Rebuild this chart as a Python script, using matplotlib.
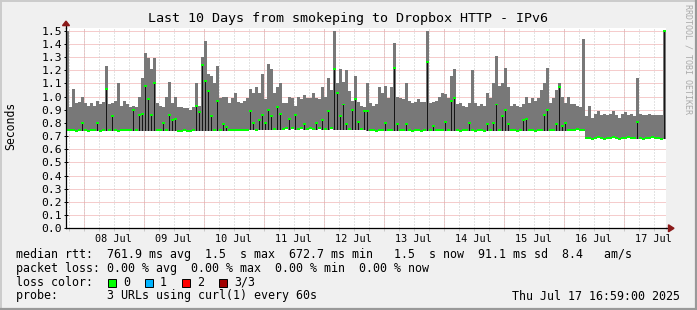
import numpy as np
import pandas as pd
import matplotlib
matplotlib.use("Agg")
import matplotlib.pyplot as plt
import matplotlib.dates as mdates
from matplotlib.patches import Rectangle, Polygon
from matplotlib.lines import Line2D
from matplotlib.ticker import FixedLocator

# ---------------- data ----------------
TITLE = "Last 10 Days from smokeping to Dropbox HTTP - IPv6"
START = "2025-07-07 16:59"
STEP_MIN = 72  # minutes per column

# upper edge of smoke (max rtt per step), seconds
rtt_max = [
    1.50, 0.92, 1.06, 0.95, 0.96, 1.00, 0.95, 0.93, 0.95, 0.93,
    0.97, 0.94, 0.96, 1.23, 0.94, 0.95, 0.97, 1.10, 0.93, 0.97,
    0.94, 0.92, 0.93, 0.92, 1.00, 1.14, 1.33, 1.29, 1.21, 1.29,
    0.95, 0.93, 0.92, 1.00, 1.11, 0.95, 1.00, 0.92, 0.92, 0.91,
    0.91, 0.90, 0.92, 1.10, 0.93, 1.30, 1.42, 1.17, 1.16, 1.10,
    1.23, 0.99, 1.00, 1.00, 0.95, 0.99, 1.03, 0.96, 0.95, 0.97,
    0.99, 1.06, 1.03, 1.07, 1.03, 1.17, 0.98, 1.25, 1.21, 1.03,
    1.07, 1.10, 0.95, 0.95, 1.00, 0.99, 0.93, 1.00, 0.98, 1.01,
    0.99, 0.99, 1.03, 0.99, 0.98, 1.07, 1.00, 1.14, 1.05, 1.50,
    1.10, 1.21, 1.11, 1.20, 1.04, 0.97, 1.16, 0.96, 0.93, 0.92,
    1.10, 0.95, 0.93, 0.94, 1.07, 1.03, 1.08, 0.99, 1.07, 1.41,
    1.00, 0.99, 0.98, 1.10, 0.97, 0.95, 0.96, 0.98, 0.96, 0.96,
    1.50, 0.95, 0.96, 0.97, 1.00, 1.03, 1.02, 0.99, 1.16, 1.21,
    0.94, 0.95, 0.93, 0.92, 0.95, 1.20, 0.95, 0.93, 0.94, 0.93,
    1.03, 0.99, 1.10, 1.31, 1.08, 1.10, 1.22, 1.07, 0.93, 0.94,
    0.93, 0.92, 0.94, 1.00, 0.95, 0.99, 0.97, 0.99, 1.05, 1.10,
    1.22, 0.95, 0.99, 1.05, 1.10, 1.00, 0.95, 1.00, 0.94, 0.94,
    0.93, 0.92, 1.44, 0.85, 0.93, 0.84, 0.87, 0.89, 0.86, 0.87,
    0.86, 0.87, 0.89, 0.86, 0.84, 0.87, 0.88, 0.86, 0.87, 0.85,
    1.14, 0.87, 0.86, 0.86, 0.87, 0.86, 0.86, 0.86, 0.86, 1.50,
]

# median rtt per step, seconds
rtt_median = [
    0.750, 0.745, 0.745, 0.740, 0.745, 0.800, 0.745, 0.740, 0.745, 0.745,
    0.800, 0.740, 0.745, 1.060, 0.745, 0.850, 0.745, 0.740, 0.745, 0.750,
    0.745, 0.745, 0.900, 0.750, 0.860, 0.870, 1.080, 0.980, 0.860, 1.100,
    0.745, 0.745, 0.800, 0.745, 0.860, 0.820, 0.830, 0.740, 0.740, 0.745,
    0.740, 0.740, 0.745, 0.930, 0.880, 1.240, 1.120, 1.040, 0.850, 0.745,
    0.970, 0.745, 0.790, 0.770, 0.745, 0.745, 0.750, 0.745, 0.750, 0.745,
    0.750, 0.890, 0.800, 0.750, 0.820, 0.860, 0.800, 0.900, 0.850, 0.755,
    0.920, 0.870, 0.755, 0.760, 0.830, 0.760, 0.860, 0.755, 0.760, 0.790,
    0.755, 0.760, 0.755, 0.800, 0.760, 0.820, 0.755, 0.890, 0.760, 1.210,
    1.030, 0.850, 0.940, 0.790, 0.755, 0.900, 0.980, 0.810, 0.755, 0.890,
    0.890, 0.745, 0.745, 0.740, 0.745, 0.745, 0.800, 0.745, 0.745, 1.220,
    0.790, 0.745, 0.745, 0.790, 0.745, 0.740, 0.745, 0.745, 0.740, 0.745,
    1.260, 0.745, 0.780, 0.745, 0.745, 0.750, 0.810, 0.745, 0.970, 0.990,
    0.745, 0.740, 0.745, 0.745, 0.800, 0.745, 0.740, 0.745, 0.745, 0.740,
    0.790, 0.745, 0.800, 0.940, 0.745, 0.850, 0.900, 0.790, 0.745, 0.745,
    0.740, 0.745, 0.820, 0.830, 0.745, 0.745, 0.740, 0.745, 0.750, 0.860,
    0.900, 0.745, 0.745, 0.790, 1.070, 0.780, 0.800, 0.745, 0.750, 0.750,
    0.755, 0.750, 0.745, 0.685, 0.685, 0.680, 0.685, 0.690, 0.685, 0.680,
    0.685, 0.685, 0.690, 0.685, 0.680, 0.685, 0.685, 0.690, 0.685, 0.685,
    0.810, 0.685, 0.680, 0.685, 0.685, 0.690, 0.685, 0.685, 0.680, 1.500,
]

# lower edge of smoke per step, seconds
rtt_min = [
    0.74, 0.74, 0.74, 0.735, 0.74, 0.74, 0.74, 0.735, 0.74, 0.74,
    0.74, 0.735, 0.74, 0.74, 0.74, 0.74, 0.74, 0.735, 0.74, 0.74,
    0.74, 0.74, 0.74, 0.74, 0.74, 0.74, 0.74, 0.74, 0.74, 0.74,
    0.74, 0.74, 0.74, 0.74, 0.74, 0.74, 0.74, 0.735, 0.735, 0.74,
    0.735, 0.735, 0.74, 0.74, 0.74, 0.74, 0.74, 0.74, 0.74, 0.74,
    0.74, 0.74, 0.74, 0.74, 0.74, 0.74, 0.745, 0.74, 0.745, 0.74,
    0.745, 0.745, 0.745, 0.745, 0.745, 0.745, 0.745, 0.745, 0.745, 0.75,
    0.75, 0.75, 0.75, 0.755, 0.75, 0.755, 0.75, 0.75, 0.755, 0.75,
    0.75, 0.755, 0.75, 0.75, 0.755, 0.75, 0.75, 0.75, 0.755, 0.75,
    0.75, 0.75, 0.75, 0.75, 0.75, 0.75, 0.75, 0.75, 0.75, 0.75,
    0.74, 0.74, 0.74, 0.735, 0.74, 0.74, 0.74, 0.74, 0.74, 0.74,
    0.74, 0.74, 0.74, 0.74, 0.74, 0.735, 0.74, 0.74, 0.735, 0.74,
    0.74, 0.74, 0.74, 0.74, 0.74, 0.745, 0.74, 0.74, 0.74, 0.74,
    0.74, 0.735, 0.74, 0.74, 0.74, 0.74, 0.735, 0.74, 0.74, 0.735,
    0.74, 0.74, 0.74, 0.74, 0.74, 0.74, 0.74, 0.74, 0.74, 0.74,
    0.735, 0.74, 0.74, 0.74, 0.74, 0.74, 0.735, 0.74, 0.745, 0.74,
    0.74, 0.74, 0.74, 0.74, 0.74, 0.74, 0.74, 0.74, 0.745, 0.745,
    0.75, 0.745, 0.74, 0.68, 0.68, 0.675, 0.68, 0.685, 0.68, 0.675,
    0.68, 0.68, 0.685, 0.68, 0.675, 0.68, 0.68, 0.685, 0.68, 0.68,
    0.68, 0.68, 0.675, 0.68, 0.68, 0.685, 0.68, 0.68, 0.675, 0.68,
]

y_ticks = [0.0, 0.1, 0.2, 0.3, 0.4, 0.5, 0.6, 0.7, 0.8, 0.9, 1.0, 1.1, 1.2, 1.3, 1.4, 1.5]
y_tick_labels = ["0.0", "0.1", "0.2", "0.3", "0.4", "0.5", "0.6", "0.7",
                 "0.8", "0.9", "1.0", "1.1", "1.2", "1.3", "1.4", "1.5"]
day_labels = ["08 Jul", "09 Jul", "10 Jul", "11 Jul", "12 Jul",
              "13 Jul", "14 Jul", "15 Jul", "16 Jul", "17 Jul"]
day_dates = ["2025-07-08", "2025-07-09", "2025-07-10", "2025-07-11", "2025-07-12",
             "2025-07-13", "2025-07-14", "2025-07-15", "2025-07-16", "2025-07-17"]

legend_line1 = "median rtt:  761.9 ms avg  1.5  s max  672.7 ms min   1.5  s now  91.1 ms sd  8.4   am/s"
legend_line2 = "packet loss: 0.00 % avg  0.00 % max  0.00 % min  0.00 % now"
loss_title = "loss color:"
loss_labels = ["0", "1", "2", "3/3"]
loss_colors = ["#00ff00", "#00b4ff", "#ff0000", "#a00000"]
probe_line = "probe:       3 URLs using curl(1) every 60s"
stamp = "Thu Jul 17 16:59:00 2025"
ylabel = "Seconds"
credit = "RRDTOOL / TOBI OETIKER"

# ---------------- figure ----------------
W, H = 697, 310
MONO = "DejaVu Sans Mono"
fig = plt.figure(figsize=(W / 100, H / 100), dpi=100, facecolor="#f0f0f0")


def fx(px):
    return px / W


def fy(py):
    return 1 - py / H


ax_left, ax_right, ax_top, ax_bottom = 66, 666, 28.1, 228.3
ax = fig.add_axes([fx(ax_left), fy(ax_bottom), (ax_right - ax_left) / W, (ax_bottom - ax_top) / H])
ax.set_facecolor("white")

t0 = pd.Timestamp(START)
times = pd.date_range(t0, periods=len(rtt_max), freq=f"{STEP_MIN}min")
xs = mdates.date2num(times.to_pydatetime())
wd = STEP_MIN / 1440.0

lo = np.array(rtt_min)
hi = np.array(rtt_max)
md = np.array(rtt_median)

ax.bar(xs, hi - lo, bottom=lo, width=wd, align="edge", color="#787878", linewidth=0, zorder=2)
ax.bar(xs + wd * 0.25, md - lo, bottom=lo, width=wd * 0.5, align="edge", color="#161616",
       linewidth=0, zorder=3)
ax.bar(xs, 0.015, bottom=md - 0.0075, width=wd, align="edge", color="#00ff00", linewidth=0, zorder=4)

x0 = mdates.date2num(t0.to_pydatetime())
x1 = mdates.date2num((t0 + pd.Timedelta(days=10)).to_pydatetime())
ax.set_xlim(x0, x1)
ax.set_ylim(0, 1.52)

# y axis
ax.yaxis.set_major_locator(FixedLocator(y_ticks))
ax.set_yticklabels(y_tick_labels, family=MONO, fontsize=8.2)
ax.tick_params(axis="y", length=3, direction="inout", width=0.7, pad=1.5, colors="black")
for yv in y_ticks[1:]:
    ax.axhline(yv, color="#ec9a9a", linestyle=(0, (1, 1)), linewidth=0.72, zorder=1)

# x axis
ax.xaxis.set_minor_locator(mdates.HourLocator(byhour=[0, 6, 12, 18]))
ax.grid(which="minor", axis="x", color="#c8c8c8", linestyle=(0, (1, 2)), linewidth=0.72, zorder=1)
ax.xaxis.remove_overlapping_locs = False
noon = [mdates.date2num((pd.Timestamp(d) + pd.Timedelta(hours=12)).to_pydatetime()) for d in day_dates]
ax.xaxis.set_major_locator(FixedLocator(noon))
ax.set_xticklabels(day_labels, family=MONO, fontsize=7.3)
ax.tick_params(axis="x", which="major", length=0, pad=4)
ax.tick_params(axis="x", which="minor", length=2, color="#c8c8c8", width=0.7)
for d in day_dates:
    ax.axvline(mdates.date2num(pd.Timestamp(d).to_pydatetime()), color="#ec9a9a",
               linestyle=(0, (1, 1)), linewidth=0.72, zorder=1)

for s in ["top", "right"]:
    ax.spines[s].set_visible(False)
for s in ["left", "bottom"]:
    ax.spines[s].set_color("black")
    ax.spines[s].set_linewidth(0.9)
    ax.spines[s].set_zorder(6)

# axis extensions and arrows (axes coords)
aw = ax_right - ax_left
ah = ax_bottom - ax_top
arrow_col = "#8b1a1a"
ax.add_line(Line2D([0, 0], [1, 1 + 3 / ah], color="black", lw=0.9, transform=ax.transAxes, clip_on=False))
ax.add_patch(Polygon([[-3.5 / aw, 1 + 2.5 / ah], [3.5 / aw, 1 + 2.5 / ah], [0, 1 + 7 / ah]],
                     closed=True, color=arrow_col, transform=ax.transAxes, clip_on=False, zorder=7))
ax.add_line(Line2D([1, 1 + 3 / aw], [0, 0], color="black", lw=0.9, transform=ax.transAxes, clip_on=False))
ax.add_patch(Polygon([[1 + 2.5 / aw, -3.5 / ah], [1 + 2.5 / aw, 3.5 / ah], [1 + 8 / aw, 0]],
                     closed=True, color=arrow_col, transform=ax.transAxes, clip_on=False, zorder=7))

# ---------------- texts ----------------
fig.text(fx(348), fy(18.7), TITLE, family=MONO, fontsize=9.6, ha="center", va="center")
fig.text(fx(11), fy(126), ylabel, family=MONO, fontsize=8.3, rotation=90, ha="center", va="center")
fig.text(fx(688), fy(59), credit, family=MONO, fontsize=6.0, rotation=270, ha="center", va="center",
         color="#aaaaaa")

FS = 8.4
fig.text(fx(16), fy(254.3), legend_line1, family=MONO, fontsize=FS, ha="left", va="center")
fig.text(fx(16), fy(268.3), legend_line2, family=MONO, fontsize=FS, ha="left", va="center")
fig.text(fx(16), fy(282.3), loss_title, family=MONO, fontsize=FS, ha="left", va="center")
box_x = [108.3, 145.3, 182.3, 219.3]
for bx, lab, col in zip(box_x, loss_labels, loss_colors):
    fig.add_artist(Rectangle((fx(bx), fy(286.5)), 7.5 / W, 8 / H, facecolor=col, edgecolor="black",
                             linewidth=0.7, transform=fig.transFigure))
    fig.text(fx(bx + 14.5), fy(282.3), lab, family=MONO, fontsize=FS, ha="left", va="center")
fig.text(fx(16), fy(296), probe_line, family=MONO, fontsize=FS, ha="left", va="center")
fig.text(fx(680), fy(296), stamp, family=MONO, fontsize=FS, ha="right", va="center")

# frame shading
fig.add_artist(Line2D([0, 1], [fy(0.5), fy(0.5)], color="#cbcbcb", lw=1.4, transform=fig.transFigure))
fig.add_artist(Line2D([fx(0.5), fx(0.5)], [0, 1], color="#cbcbcb", lw=1.4, transform=fig.transFigure))
fig.add_artist(Line2D([0, 1], [fy(308.8), fy(308.8)], color="#999999", lw=1.6, transform=fig.transFigure))
fig.add_artist(Line2D([fx(695.8), fx(695.8)], [0, 1], color="#999999", lw=1.6, transform=fig.transFigure))

fig.savefig("out.png", dpi=100, facecolor=fig.get_facecolor())
